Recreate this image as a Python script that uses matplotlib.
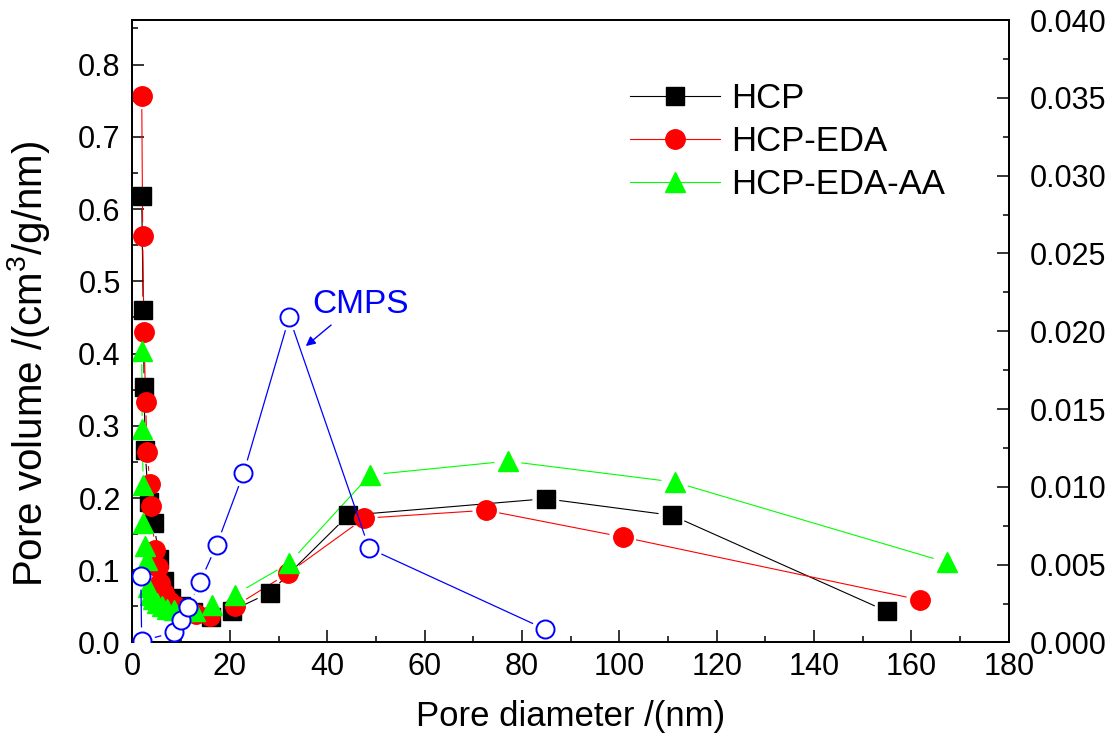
import numpy as np
import matplotlib
matplotlib.use("Agg")
import matplotlib.pyplot as plt
from matplotlib.collections import LineCollection
from matplotlib.lines import Line2D
from matplotlib.ticker import MultipleLocator, FormatStrFormatter

plt.rcParams['font.family'] = ['Liberation Sans', 'DejaVu Sans']
plt.rcParams['mathtext.fontset'] = 'custom'
plt.rcParams['mathtext.rm'] = 'Liberation Sans'

# Pore size distributions (left axis)
hcp_d = [1.9, 2.2, 2.4, 2.6, 3.3, 4.4, 5.5, 6.5, 8.0, 10.0, 12.5, 16.1, 20.4, 28.2, 44.3, 84.9, 110.8, 155.0]
hcp_v = [0.618, 0.460, 0.354, 0.266, 0.195, 0.166, 0.115, 0.085, 0.062, 0.050, 0.042, 0.035, 0.044, 0.069, 0.176, 0.199, 0.176, 0.043]

eda_d = [1.9, 2.1, 2.36, 2.7, 3.0, 3.6, 3.8, 4.6, 5.2, 5.6, 6.5, 7.5, 9.0, 11.0, 13.0, 15.9, 21.0, 32.0, 47.6, 72.6, 100.7, 161.7]
eda_v = [0.757, 0.563, 0.430, 0.333, 0.263, 0.219, 0.189, 0.128, 0.105, 0.082, 0.068, 0.058, 0.050, 0.044, 0.040, 0.037, 0.050, 0.096, 0.172, 0.183, 0.146, 0.059]

aa_d = [1.9, 2.0, 2.2, 2.2, 2.6, 2.9, 3.2, 3.6, 4.2, 5.0, 6.0, 7.0, 8.5, 10.5, 12.8, 16.3, 21.0, 32.2, 48.8, 77.1, 111.4, 167.2]
aa_v = [0.404, 0.295, 0.218, 0.165, 0.133, 0.114, 0.077, 0.066, 0.060, 0.055, 0.050, 0.047, 0.045, 0.044, 0.043, 0.052, 0.066, 0.110, 0.232, 0.251, 0.222, 0.111]

# CMPS (right axis)
cmps_d = [1.7, 1.9, 8.6, 10.0, 11.5, 13.9, 17.3, 22.8, 32.2, 48.6, 84.8]
cmps_v = [0.00427, 0.0001, 0.00066, 0.00145, 0.0023, 0.0039, 0.00627, 0.01087, 0.0209, 0.00605, 0.00085]

GREEN = '#00ff00'

fig = plt.figure(figsize=(11.16, 7.42), dpi=100)
ax = fig.add_axes([0.1187, 0.1341, 0.7853, 0.8389])
ax2 = ax.twinx()

ax.set_xlim(0, 180)
ax.set_ylim(0, 0.8616)
ax2.set_ylim(0, 0.040)


def gapped_line(a, xs, ys, gap_px, **kw):
    """Connect consecutive points, leaving a small gap around each symbol."""
    pts = a.transData.transform(np.column_stack([xs, ys]))
    inv = a.transData.inverted()
    segs = []
    for p, q in zip(pts[:-1], pts[1:]):
        d = q - p
        length = np.hypot(*d)
        if length <= 2 * gap_px:
            continue
        u = d / length
        segs.append(inv.transform(np.array([p + u * gap_px, q - u * gap_px])))
    a.add_collection(LineCollection(segs, **kw))


GAP = 13.5
gapped_line(ax, hcp_d, hcp_v, GAP, colors='black', linewidths=0.8, zorder=2)
gapped_line(ax, eda_d, eda_v, GAP, colors='red', linewidths=0.8, zorder=2)
gapped_line(ax, aa_d, aa_v, GAP, colors=GREEN, linewidths=0.8, zorder=2)
gapped_line(ax2, cmps_d, cmps_v, GAP, colors='blue', linewidths=0.9, zorder=2)

ax.plot(hcp_d, hcp_v, ls='none', marker='s', ms=13, mfc='black', mec='black', zorder=3)
ax.plot(eda_d, eda_v, ls='none', marker='o', ms=14, mfc='red', mec='red', zorder=4)
ax.plot(aa_d, aa_v, ls='none', marker='^', ms=15, mfc=GREEN, mec=GREEN, zorder=5)
ax2.plot(cmps_d, cmps_v, ls='none', marker='o', ms=13, mfc='white', mec='blue', mew=1.4, zorder=3)

ax2.text(46.9, 0.02175, 'CMPS', color='blue', fontsize=24, ha='center', va='center')
ax2.annotate('', xy=(35.6, 0.01905), xytext=(40.8, 0.0204),
             arrowprops=dict(arrowstyle='-|>', color='blue', lw=1.0, mutation_scale=14,
                             shrinkA=0, shrinkB=0))

ax.xaxis.set_major_locator(MultipleLocator(20))
ax.xaxis.set_minor_locator(MultipleLocator(10))
ax.yaxis.set_major_locator(MultipleLocator(0.1))
ax.yaxis.set_minor_locator(MultipleLocator(0.05))
ax.yaxis.set_major_formatter(FormatStrFormatter('%.1f'))
ax2.yaxis.set_major_locator(MultipleLocator(0.005))
ax2.yaxis.set_minor_locator(MultipleLocator(0.0025))
ax2.yaxis.set_major_formatter(FormatStrFormatter('%.3f'))

for a in (ax, ax2):
    for s in a.spines.values():
        s.set_linewidth(1.3)
    a.tick_params(which='major', direction='in', length=8.5, width=1.1, labelsize=22)
    a.tick_params(which='minor', direction='in', length=4.5, width=1.1)
ax.tick_params(axis='y', which='both', right=False, pad=8.5)
ax.tick_params(axis='x', which='both', top=False, pad=7)
ax2.tick_params(axis='y', which='both', left=False, right=True, pad=15)

ax.set_xlabel('Pore diameter /(nm)', fontsize=25)
ax.xaxis.set_label_coords(0.5, -0.0924)
ax.set_ylabel('Pore volume /(cm$^3$/g/nm)', fontsize=29)
ax.yaxis.set_label_coords(-0.092, 0.447)

handles = [
    Line2D([], [], color='black', lw=0.8, marker='s', ms=13, mfc='black', mec='black'),
    Line2D([], [], color='red', lw=0.8, marker='o', ms=14, mfc='red', mec='red'),
    Line2D([], [], color=GREEN, lw=0.8, marker='^', ms=15, mfc=GREEN, mec=GREEN),
]
labels = ['HCP', 'HCP-EDA', 'HCP-EDA-AA']
ax.legend(handles, labels, loc='upper left', bbox_to_anchor=(0.5676, 0.901), frameon=False,
          fontsize=25, handlelength=2.6, handletextpad=0.32, labelspacing=0.29,
          borderaxespad=0, borderpad=0)

fig.savefig('out.png', dpi=100)
